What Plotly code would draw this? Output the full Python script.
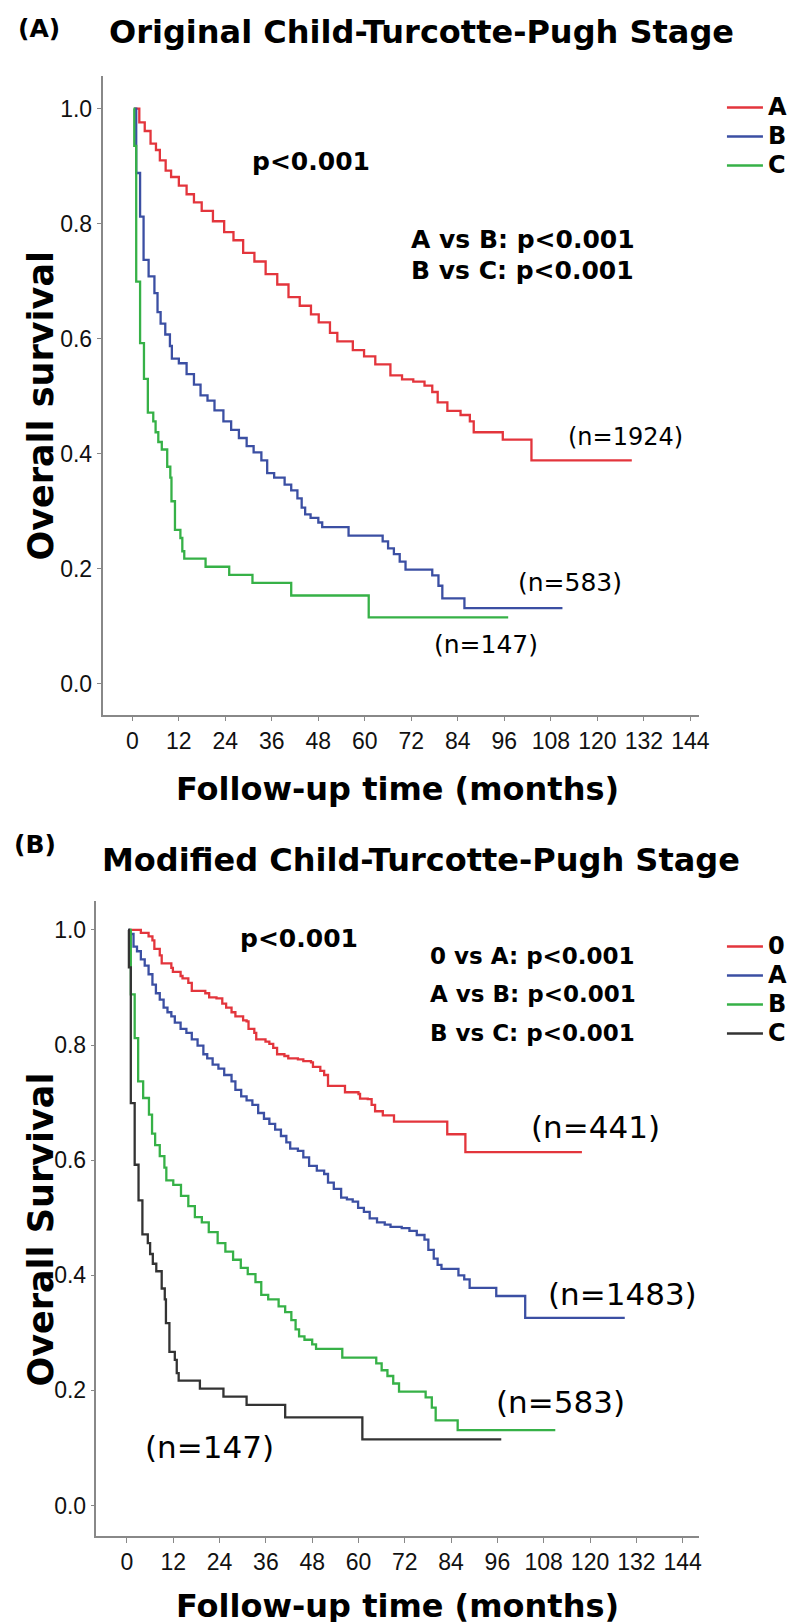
import plotly.graph_objects as go

W, H = 799, 1622

# ---- Kaplan-Meier curves (months, survival) ----
# panel A: original CTP, stage A (n=1924)
orig_A_t = [0.5, 1.8, 3.2, 4.7, 6.1, 7.1, 8.6, 10.0, 12.0, 14.0, 15.9, 17.9, 20.8, 23.7, 26.1,
            28.6, 31.5, 34.4, 37.4, 40.3, 43.2, 46.1, 48.1, 51.0, 52.9, 56.9, 59.8, 62.7, 66.6,
            69.6, 72.5, 75.4, 77.4, 78.8, 81.3, 84.7, 87.1, 88.1, 95.6, 103.0, 128.9]
orig_A_s = [1.0, 0.976, 0.961, 0.939, 0.928, 0.910, 0.892, 0.881, 0.866, 0.851, 0.837, 0.822, 0.804,
            0.785, 0.771, 0.749, 0.734, 0.712, 0.694, 0.672, 0.657, 0.642, 0.628, 0.610, 0.595,
            0.580, 0.569, 0.555, 0.536, 0.529, 0.525, 0.518, 0.507, 0.489, 0.474, 0.467, 0.456,
            0.437, 0.424, 0.388, 0.388]

# stage B (n=583), same cohort in both panels
stage_B_t = [0.5, 1.0, 2.0, 2.9, 4.2, 5.7, 6.5, 7.3, 8.5, 9.7, 10.2, 12.0, 14.0, 15.9, 17.6,
             19.4, 21.2, 23.5, 25.5, 27.5, 29.5, 31.3, 33.3, 34.8, 36.6, 39.3, 41.0, 42.6, 43.7,
             44.6, 46.0, 48.0, 49.0, 55.8, 64.6, 66.0, 67.5, 69.0, 70.5, 77.4, 79.0, 80.0, 85.7, 111.0]
stage_B_s = [1.0, 0.888, 0.812, 0.737, 0.708, 0.679, 0.646, 0.626, 0.607, 0.587, 0.565, 0.557, 0.538,
             0.520, 0.501, 0.492, 0.475, 0.456, 0.441, 0.427, 0.413, 0.402, 0.388, 0.366, 0.358,
             0.346, 0.336, 0.322, 0.306, 0.294, 0.288, 0.280, 0.272, 0.257, 0.247, 0.235, 0.225,
             0.212, 0.198, 0.188, 0.170, 0.148, 0.131, 0.131]

# stage C (n=147)
stage_C_t = [0.3, 0.5, 1.0, 2.0, 3.0, 4.0, 5.4, 6.0, 6.7, 7.6, 9.0, 9.8, 10.1, 11.0, 12.4,
             12.9, 13.4, 18.9, 25.0, 31.0, 41.0, 61.0, 97.0]
stage_C_s = [1.0, 0.935, 0.699, 0.592, 0.530, 0.471, 0.456, 0.437, 0.420, 0.407, 0.377, 0.358,
             0.317, 0.267, 0.253, 0.230, 0.217, 0.203, 0.189, 0.175, 0.153, 0.115, 0.115]

# panel B: modified CTP, stage 0 (n=441)
mod_0_t = [0.5, 3.6, 5.6, 6.6, 7.1, 8.5, 9.0, 11.5, 11.9, 13.9, 14.4, 15.9, 16.8, 20.3, 21.3,
           23.2, 24.7, 25.7, 27.1, 28.1, 30.1, 31.0, 31.5, 33.0, 33.5, 35.9, 36.9, 37.9, 38.9,
           40.8, 41.8, 44.3, 45.7, 47.7, 48.2, 50.1, 51.1, 52.1, 56.5, 60.0, 60.4, 62.4, 63.4,
           64.3, 66.3, 69.2, 83.0, 87.7, 117.9]
mod_0_s = [1.0, 0.995, 0.989, 0.982, 0.967, 0.956, 0.942, 0.934, 0.927, 0.920, 0.916, 0.908, 0.894,
           0.890, 0.883, 0.881, 0.872, 0.865, 0.857, 0.850, 0.843, 0.841, 0.828, 0.821, 0.810,
           0.806, 0.802, 0.795, 0.784, 0.781, 0.777, 0.775, 0.772, 0.770, 0.762, 0.755, 0.748,
           0.729, 0.718, 0.715, 0.707, 0.706, 0.696, 0.685, 0.678, 0.667, 0.645, 0.614, 0.614]

# modified stage A (n=1483)
mod_A_t = [0.3, 0.7, 1.7, 2.6, 3.6, 4.6, 5.6, 6.6, 7.5, 8.5, 9.5, 10.5, 11.5, 12.4, 13.9,
           15.4, 16.8, 18.3, 19.8, 20.8, 22.2, 23.7, 25.2, 27.1, 28.1, 29.6, 31.0, 32.5, 34.0,
           35.5, 36.9, 38.4, 39.9, 41.3, 42.3, 44.3, 45.7, 47.2, 49.2, 51.1, 52.1, 53.6, 55.5,
           57.0, 58.5, 59.9, 61.4, 62.9, 64.8, 66.8, 68.3, 71.2, 73.2, 75.1, 77.1, 78.1, 79.5,
           80.5, 81.5, 85.9, 87.4, 88.8, 95.7, 103.2, 129.0]
mod_A_s = [1.0, 0.993, 0.971, 0.963, 0.949, 0.938, 0.923, 0.905, 0.890, 0.879, 0.865, 0.857, 0.850,
           0.839, 0.828, 0.821, 0.810, 0.799, 0.784, 0.777, 0.766, 0.759, 0.748, 0.737, 0.722,
           0.711, 0.704, 0.696, 0.682, 0.672, 0.663, 0.653, 0.642, 0.631, 0.620, 0.616, 0.605,
           0.590, 0.582, 0.576, 0.561, 0.550, 0.535, 0.532, 0.528, 0.517, 0.510, 0.499, 0.492,
           0.488, 0.484, 0.482, 0.477, 0.470, 0.462, 0.444, 0.429, 0.418, 0.411, 0.400, 0.393,
           0.378, 0.364, 0.326, 0.326]

x_ticks = list(range(0, 145, 12))
y_ticks = [0.0, 0.2, 0.4, 0.6, 0.8, 1.0]

RED, BLUE, GREEN, DARK = "#e3353c", "#3b4fa3", "#36b147", "#333333"
BOLD = "DejaVu Sans"
ARIAL = "Liberation Sans, Arial"

fig = go.Figure()

def km(t, s, name, color, xa, ya, leg):
    # legend label drawn a bit larger than the legend line height
    label = "<span style='font-size:24px'>%s</span>" % name
    fig.add_trace(go.Scatter(x=t, y=s, mode="lines", name=label,
                             line=dict(shape="hv", color=color, width=2.3),
                             xaxis=xa, yaxis=ya, legend=leg))

km(orig_A_t, orig_A_s, "A", RED, "x", "y", "legend")
km(stage_B_t, stage_B_s, "B", BLUE, "x", "y", "legend")
km(stage_C_t, stage_C_s, "C", GREEN, "x", "y", "legend")

km(mod_0_t, mod_0_s, "0", RED, "x2", "y2", "legend2")
km(mod_A_t, mod_A_s, "A", BLUE, "x2", "y2", "legend2")
km(stage_B_t, stage_B_s, "B", GREEN, "x2", "y2", "legend2")
km(stage_C_t, stage_C_s, "C", DARK, "x2", "y2", "legend2")

def px(x):
    return x / W

def py(y):
    return 1 - y / H

xax = dict(tickvals=x_ticks, ticks="outside", ticklen=5, tickcolor="#888", showline=True,
           linecolor="#888", linewidth=1.5, showgrid=False, zeroline=False,
           tickfont=dict(family=ARIAL, size=23, color="#111"))
yax = dict(tickvals=y_ticks, tickformat=".1f", ticks="outside", ticklen=4, tickcolor="#888",
           showline=True, linecolor="#888", linewidth=1.5, showgrid=False, zeroline=False,
           tickfont=dict(family=ARIAL, size=23, color="#111"))

leg = dict(xanchor="left", yanchor="top", bgcolor="rgba(0,0,0,0)", itemwidth=36,
           font=dict(family=BOLD, size=20, color="black", weight="bold"))

fig.update_layout(
    width=W, height=H, margin=dict(l=0, r=0, t=0, b=0),
    paper_bgcolor="white", plot_bgcolor="white", showlegend=True,
    xaxis=dict(xax, domain=[px(95.7), px(700)], range=[-7.7, 146.3], anchor="y"),
    yaxis=dict(yax, domain=[py(706.5), py(68.4)], range=[-0.054, 1.056], anchor="x"),
    xaxis2=dict(xax, domain=[px(89.6), px(700)], range=[-7.9, 148.3], anchor="y2"),
    yaxis2=dict(yax, domain=[py(1528), py(892.6)], range=[-0.053, 1.051], anchor="x2"),
    legend=dict(leg, x=px(723), y=py(80)),
    legend2=dict(leg, x=px(723), y=py(919)),
)

ann = []

def text(x, y, s, size, xref="paper", yref="paper", bold=False, family=BOLD,
         xanchor="center", angle=0):
    ann.append(dict(x=x, y=y, xref=xref, yref=yref, text=s, showarrow=False,
                    xanchor=xanchor, yanchor="middle", textangle=angle,
                    font=dict(family=family, size=size, color="black",
                              weight="bold" if bold else "normal")))

# titles and panel letters
text(px(31), py(21), "(A)", 25, bold=True)
text(px(419), py(24), "Original Child-Turcotte-Pugh Stage", 32, bold=True)
text(px(27), py(836), "(B)", 25, bold=True)
text(px(418), py(852), "Modified Child-Turcotte-Pugh Stage", 32, bold=True)

# axis titles
text(px(394), py(781), "Follow-up time (months)", 32, bold=True)
text(px(394), py(1598), "Follow-up time (months)", 32, bold=True)
text(px(33), py(398), "Overall survival", 35, bold=True, angle=-90)
text(px(33), py(1222), "Overall Survival", 35, bold=True, angle=-90)

# panel A statistics
text(46, 0.908, "p<0.001", 25, "x", "y", bold=True)
text(71.3, 0.772, "A vs B: p<0.001", 25, "x", "y", bold=True, xanchor="left")
text(71.3, 0.718, "B vs C: p<0.001", 25, "x", "y", bold=True, xanchor="left")
text(127.3, 0.428, "(n=1924)", 24, "x", "y")
text(113.0, 0.176, "(n=583)", 25, "x", "y")
text(91.2, 0.067, "(n=147)", 25, "x", "y")

# panel B statistics
text(44.6, 0.985, "p<0.001", 25, "x2", "y2", bold=True)
text(77.9, 0.955, "0 vs A: p<0.001", 23, "x2", "y2", bold=True, xanchor="left")
text(77.9, 0.889, "A vs B: p<0.001", 23, "x2", "y2", bold=True, xanchor="left")
text(77.9, 0.821, "B vs C: p<0.001", 23, "x2", "y2", bold=True, xanchor="left")
text(121.4, 0.658, "(n=441)", 31, "x2", "y2")
text(128.3, 0.367, "(n=1483)", 31, "x2", "y2")
text(112.4, 0.179, "(n=583)", 31, "x2", "y2")
text(21.5, 0.102, "(n=147)", 31, "x2", "y2")

fig.update_layout(annotations=ann)
fig.write_html("out.html")
